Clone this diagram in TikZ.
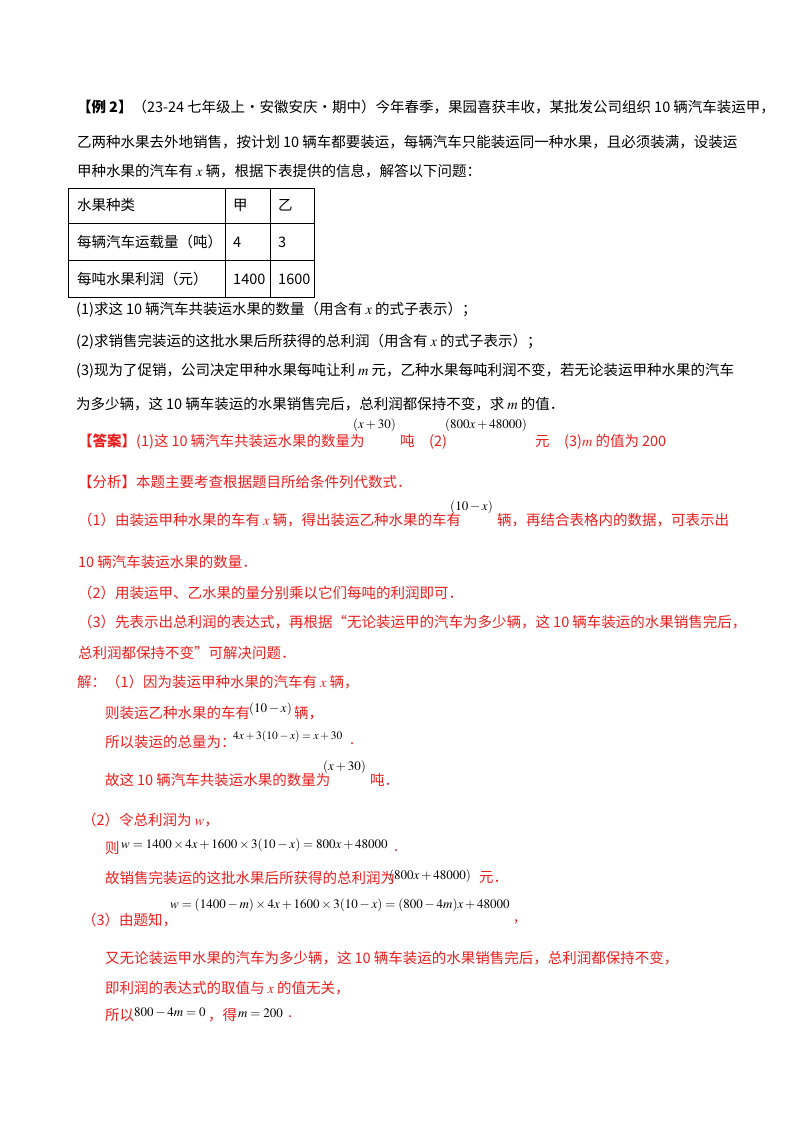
\documentclass[tikz,border=0pt]{standalone}
\usepackage{mathptmx}
\usepackage{fontspec}
\setmainfont{Noto Sans CJK SC}
\definecolor{ansred}{RGB}{235,30,30}
\newcommand{\gapsp}{\hspace{3pt}}
\tikzset{
  t/.style={anchor=west,inner sep=0pt,font=\fontsize{14.5}{17}\selectfont},
  r/.style={t,text=ansred},
  mth/.style={anchor=west,inner sep=0pt,font=\fontsize{13}{15}\selectfont},
  mr/.style={mth},
  tbl/.style={draw=black,line width=1pt}
}
\begin{document}
\begin{tikzpicture}[x=1pt,y=-1pt]
\useasboundingbox (0,0) rectangle (800,1132);
% problem
\node[t] (l1) at (77,107) {\textbf{【例\gapsp2】}（23-24\gapsp 七年级上·安徽安庆·期中）今年春季，果园喜获丰收，某批发公司组织\gapsp10\gapsp 辆汽车装运甲，};
\node[t] (l2) at (77,142) {乙两种水果去外地销售，按计划\gapsp10\gapsp 辆车都要装运，每辆汽车只能装运同一种水果，且必须装满，设装运};
\node[t] (l3) at (77,171) {甲种水果的汽车有\gapsp$x$\gapsp 辆，根据下表提供的信息，解答以下问题：};
% table
\draw[tbl] (68,188) rectangle (314,297);
\draw[tbl] (68,223) -- (314,223) (68,260) -- (314,260) (225,188) -- (225,297) (270,188) -- (270,297);
\node[t] (c11) at (77,205) {水果种类};
\node[t] (c12) at (233,205) {甲};
\node[t] (c13) at (278,205) {乙};
\node[t] (c21) at (77,242) {每辆汽车运载量（吨）};
\node[t] (c22) at (233,242) {4};
\node[t] (c23) at (278,242) {3};
\node[t] (c31) at (77,279) {每吨水果利润（元）};
\node[t] (c32) at (233,279) {1400};
\node[t] (c33) at (278,279) {1600};
\node[t] (q1) at (76,310) {(1)求这\gapsp10\gapsp 辆汽车共装运水果的数量（用含有\gapsp$x$\gapsp 的式子表示）；};
\node[t] (q2) at (76,342) {(2)求销售完装运的这批水果后所获得的总利润（用含有\gapsp$x$\gapsp 的式子表示）；};
\node[t] (q3) at (76,371) {(3)现为了促销，公司决定甲种水果每吨让利\gapsp$m$\gapsp 元，乙种水果每吨利润不变，若无论装运甲种水果的汽车};
\node[t] (q4) at (76,404) {为多少辆，这\gapsp10\gapsp 辆车装运的水果销售完后，总利润都保持不变，求\gapsp$m$\gapsp 的值．};
% answer
\node[r] (a1) at (78,442) {\textbf{【答案】}(1)这\gapsp10\gapsp 辆汽车共装运水果的数量为};
\node[mr] (a1m) at (353,425) {$(x+30)$};
\node[r] (a2) at (400,442) {吨\quad(2)};
\node[mr] (a2m) at (445,425) {$(800x+48000)$};
\node[r] (a3) at (535,442) {元\quad(3)$m$\gapsp 的值为\gapsp200};
% analysis
\node[r] (f0) at (78,482) {【分析】本题主要考查根据题目所给条件列代数式．};
\node[r] (f1) at (78,520) {（1）由装运甲种水果的车有\gapsp$x$\gapsp 辆，得出装运乙种水果的车有};
\node[mr] (f1m) at (450,507) {$(10-x)$};
\node[r] (f1b) at (497,520) {辆，再结合表格内的数据，可表示出};
\node[r] (f2) at (78,562) {10\gapsp 辆汽车装运水果的数量．};
\node[r] (f3) at (78,593) {（2）用装运甲、乙水果的量分别乘以它们每吨的利润即可．};
\node[r] (f4) at (78,622) {（3）先表示出总利润的表达式，再根据“无论装运甲的汽车为多少辆，这\gapsp10\gapsp 辆车装运的水果销售完后，};
\node[r] (f5) at (78,653) {总利润都保持不变”可解决问题．};
% solution
\node[r] (s1) at (77,682) {解：（1）因为装运甲种水果的汽车有\gapsp$x$\gapsp 辆，};
\node[r] (s2) at (105,713) {则装运乙种水果的车有};
\node[mr] (s2m) at (249,709) {$(10-x)$};
\node[r] (s2b) at (294,713) {辆，};
\node[r] (s3) at (105,742) {所以装运的总量为：};
\node[mr,font=\fontsize{11.5}{13}\selectfont] (s3m) at (233,737) {$4x+3(10-x)=x+30$};
\node[r] (s3b) at (350,744) {.};
\node[r] (s4) at (105,780) {故这\gapsp10\gapsp 辆汽车共装运水果的数量为};
\node[mr] (s4m) at (323,767) {$(x+30)$};
\node[r] (s4b) at (370,780) {吨．};
\node[r] (s5) at (82,820) {（2）令总利润为\gapsp$w$，};
\node[r] (s6) at (105,848) {则};
\node[mr] (s6m) at (121,845) {$w=1400\times4x+1600\times3(10-x)=800x+48000$};
\node[r] (s6b) at (394,851) {.};
\node[r] (s7) at (105,878) {故销售完装运的这批水果后所获得的总利润为};
\node[mr] (s7m) at (389,876) {$(800x+48000)$};
\node[r] (s7b) at (479,878) {元．};
\node[r] (s8) at (82,920) {（3）由题知，};
\node[mr] (s8m) at (170,905) {$w=(1400-m)\times4x+1600\times3(10-x)=(800-4m)x+48000$};
\node[r] (s8b) at (514,922) {,};
\node[r] (s9) at (105,958) {又无论装运甲水果的汽车为多少辆，这\gapsp10\gapsp 辆车装运的水果销售完后，总利润都保持不变，};
\node[r] (s10) at (105,988) {即利润的表达式的取值与\gapsp$x$\gapsp 的值无关，};
\node[r] (s11) at (105,1015) {所以};
\node[mr] (s11m) at (134,1013) {$800-4m=0$};
\node[r] (s11b) at (208,1015) {，得};
\node[mr] (s11c) at (238,1013) {$m=200$};
\node[r] (s11d) at (288,1017) {.};
\end{tikzpicture}
\end{document}
